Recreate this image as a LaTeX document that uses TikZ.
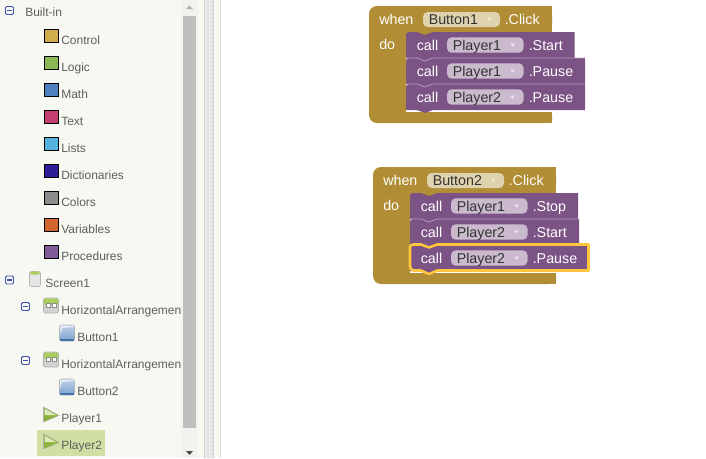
\documentclass[tikz,border=0pt]{standalone}
\usepackage{fontspec}
\usetikzlibrary{patterns}
\setmainfont{Liberation Sans}
\definecolor{panel}{HTML}{F8F8F3}
\definecolor{track}{HTML}{F2F2EF}
\definecolor{thumb}{HTML}{BEBEBE}
\definecolor{treetext}{HTML}{5E5E5E}
\definecolor{gold}{HTML}{B18E35}
\definecolor{goldfield}{HTML}{DFD2AE}
\definecolor{purple}{HTML}{7C5385}
\definecolor{purplefield}{HTML}{CBBACE}
\definecolor{hilite}{HTML}{FDC63C}
\definecolor{selbg}{HTML}{D2DFA4}
\definecolor{plus}{HTML}{3F4FB0}
\definecolor{playgreen}{HTML}{9CC63F}
\definecolor{ctl}{HTML}{D0AC4C}
\definecolor{lgc}{HTML}{8CB854}
\definecolor{mth}{HTML}{4E80BF}
\definecolor{txt}{HTML}{C23F70}
\definecolor{lst}{HTML}{54B4DC}
\definecolor{dic}{HTML}{2D1D96}
\definecolor{clr}{HTML}{8C8C8C}
\definecolor{vrb}{HTML}{D0652F}
\definecolor{prc}{HTML}{7F5C98}
\tikzset{
 px/.style={x=0.75pt,y=-0.75pt},
 treelabel/.style={anchor=base west,inner sep=0pt,text=treetext,font=\fontsize{9pt}{11pt}\selectfont},
 blocktext/.style={anchor=base west,inner sep=0pt,text=white,font=\fontsize{10.7pt}{12pt}\selectfont},
 fieldtext/.style={anchor=base west,inner sep=0pt,text=black!80,font=\fontsize{10.7pt}{12pt}\selectfont},
 swatch/.style={draw=black,line width=0.75pt},
 toggle/.style={draw=plus,fill=panel,line width=0.7pt,rounded corners=1pt},
}
\newcommand{\treetoggle}[2]{%
 \draw[toggle] (#1-4,#2-4) rectangle (#1+4,#2+4);
 \draw[plus,line width=0.9pt] (#1-2.5,#2) -- (#1+2.5,#2);}
% palette entry: baseline y, colour, label, node name
\newcommand{\palette}[4]{%
 \draw[swatch,fill=#2] (44.5,#1-15) rectangle (58,#1-1.5);
 \node[treelabel] (#4) at (61,#1) {#3};}
% arrangement icon: top y
\newcommand{\arrangeicon}[1]{%
 \fill[black!18,draw=black!30,rounded corners=1.5pt,line width=0.5pt] (43.5,#1) rectangle (58.5,#1+15);
 \fill[playgreen!85!white,rounded corners=1pt] (44,#1+.5) rectangle (58,#1+7);
 \draw[black!45,fill=white,line width=0.6pt] (46,#1+5) rectangle (50,#1+9.5) (52,#1+5) rectangle (56,#1+9.5);}
% button icon: top y
\newcommand{\buttonicon}[1]{%
 \draw[black!30,top color=mth!35!white,bottom color=mth!75!white,rounded corners=1.5pt,line width=0.5pt] (59.5,#1) rectangle (74.5,#1+16);
 \fill[white!85!mth] (60,#1+.7) -- (74,#1+.7) -- (74,#1+2) -- (62,#1+3) -- (60,#1+10) -- cycle;
 \fill[mth!90!black] (60,#1+13.5) rectangle (74,#1+15.5);}
% player icon: top y
\newcommand{\playericon}[1]{%
 \fill[playgreen!90!black,draw=black!30,line width=0.4pt] (43.5,#1) -- (59,#1+8.5) -- (43.5,#1+15) -- cycle;
 \fill[playgreen!35!white] (44.5,#1+1.7) -- (56,#1+8) -- (44.5,#1+8) -- cycle;}
% call block: x, y, right, player, method, name, extra drawing
\newcommand{\callblock}[7]{%
 \fill[purple] (#1,#2+3) arc[start angle=180,end angle=270,radius=3] -- (#1+11,#2) -- (#1+19,#2+3) -- (#1+27,#2) -- (#3,#2) -- (#3,#2+26) -- (#1+27,#2+26) -- (#1+19,#2+29) -- (#1+11,#2+26) -- (#1,#2+26) -- cycle;
 \node[blocktext] (#6c) at (#1+10.5,#2+18) {call};
 \fill[purplefield,rounded corners=3.5pt] (#1+41,#2+5.3) rectangle (#1+117.5,#2+20.7);
 \node[fieldtext] (#6f) at (#1+46.5,#2+18) {#4};
 \fill[white!85!purple] (#1+104,#2+11.5) -- (#1+109,#2+11.5) -- (#1+106.5,#2+14.7) -- cycle;
 \node[blocktext] (#6m) at (#1+122.5,#2+18) {#5};
 #7}
% event block: x, y, button, name
\newcommand{\eventblock}[4]{%
 \fill[gold,rounded corners=6pt] (#1,#2) -- (#1+183,#2) -- (#1+183,#2+26) -- (#1+37,#2+26) -- (#1+37,#2+106) -- (#1+183,#2+106) -- (#1+183,#2+117) -- (#1,#2+117) -- cycle;
 \fill[gold] (#1+170,#2) rectangle (#1+183,#2+26);
 \fill[gold] (#1+170,#2+106) rectangle (#1+183,#2+117);
 \fill[gold] (#1+33,#2+20) rectangle (#1+70,#2+30);
 \fill[white] (#1+37,#2+94) rectangle (#1+64,#2+106);
 \node[blocktext] (#4w) at (#1+10,#2+18) {when};
 \fill[goldfield,rounded corners=3.5pt] (#1+54,#2+6) rectangle (#1+131,#2+21);
 \node[fieldtext] (#4f) at (#1+59.5,#2+18) {#3};
 \fill[white!80!gold] (#1+117.5,#2+11.5) -- (#1+122.5,#2+11.5) -- (#1+120,#2+14.7) -- cycle;
 \node[blocktext] (#4k) at (#1+135.5,#2+18) {.Click};
 \node[blocktext] (#4d) at (#1+10,#2+43) {do};}
\begin{document}
\begin{tikzpicture}[px]
\useasboundingbox (0,0) rectangle (706,458);
\fill[white] (0,0) rectangle (706,458);
% side panel
\fill[panel] (0,0) rectangle (181,458);
\fill[track] (181,0) rectangle (198,458);
\fill[thumb] (183,16) rectangle (196,428);
\fill[black!30] (186,9) -- (193,9) -- (189.5,5.5) -- cycle;
\fill[black!70] (186,451) -- (193,451) -- (189.5,455) -- cycle;
% divider
\fill[panel] (198,0) rectangle (204,458);
\fill[black!8] (204,0) rectangle (214,458);
\fill[pattern=dots,pattern color=black!30] (204,0) rectangle (214,458);
\draw[black!18,line width=0.75pt] (204.5,0) -- (204.5,458) (213.5,0) -- (213.5,458);
\fill[panel] (214,0) rectangle (220,458);
\draw[black!13,line width=0.75pt] (220.5,0) -- (220.5,458);
% tree
\treetoggle{9.5}{10.5}
\node[treelabel] (builtin) at (25,16) {Built-in};
\palette{44}{ctl}{Control}{pctl}
\palette{71}{lgc}{Logic}{plgc}
\palette{98}{mth}{Math}{pmth}
\palette{125}{txt}{Text}{ptxt}
\palette{152}{lst}{Lists}{plst}
\palette{179}{dic}{Dictionaries}{pdic}
\palette{206}{clr}{Colors}{pclr}
\palette{233}{vrb}{Variables}{pvrb}
\palette{260}{prc}{Procedures}{pprc}
\treetoggle{9.5}{280}
\fill[black!10,draw=black!28,rounded corners=1.5pt,line width=0.5pt] (29.5,271.5) rectangle (40.5,286.5);
\fill[playgreen!85!white,rounded corners=1pt] (30,271.7) rectangle (40,274.5);
\node[treelabel] (screen) at (45,287) {Screen1};
\treetoggle{25.5}{306.5}
\arrangeicon{298}
\begin{scope}
\clip (0,295) rectangle (181,375);
\node[treelabel] (arra) at (61,314) {HorizontalArrangemen};
\node[treelabel] (arrb) at (61,368) {HorizontalArrangemen};
\end{scope}
\buttonicon{325}
\node[treelabel] (btna) at (77,341) {Button1};
\treetoggle{25.5}{360.5}
\arrangeicon{352}
\buttonicon{379}
\node[treelabel] (btnb) at (77,395) {Button2};
\playericon{407}
\node[treelabel] (pa) at (61,422) {Player1};
\fill[selbg] (37,430) rectangle (105,456);
\playericon{434}
\node[treelabel] (pb) at (61,449) {Player2};
% first event
\eventblock{369}{6}{Button1}{ea}
\callblock{406}{32}{574.5}{Player1}{.Start}{aa}{}
\callblock{406}{58}{585}{Player1}{.Pause}{ab}{\draw[purple!55!white,line width=0.5pt] (406,58) -- (417,58) -- (425,61) -- (433,58) -- (585,58);}
\callblock{406}{84}{585}{Player2}{.Pause}{ac}{\draw[purple!55!white,line width=0.5pt] (406,84) -- (417,84) -- (425,87) -- (433,84) -- (585,84);}
% second event
\eventblock{373}{167}{Button2}{eb}
\callblock{410}{193}{578}{Player1}{.Stop}{ba}{}
\callblock{410}{219}{579}{Player2}{.Start}{bb}{\draw[purple!55!white,line width=0.5pt] (410,219) -- (421,219) -- (429,222) -- (437,219) -- (579,219);}
\callblock{410}{245}{589}{Player2}{.Pause}{bc}{\draw[hilite,line width=1.9pt,line join=round] (413,244.5) -- (421,244.5) -- (429,247.5) -- (437,244.5) -- (588.5,244.5) -- (588.5,270.5) -- (437,270.5) -- (429,274) -- (421,270.5) -- (414,270.5) arc[start angle=90,end angle=180,radius=4] -- (410,247.5) arc[start angle=180,end angle=270,radius=3] -- cycle;}
\end{tikzpicture}
\end{document}
